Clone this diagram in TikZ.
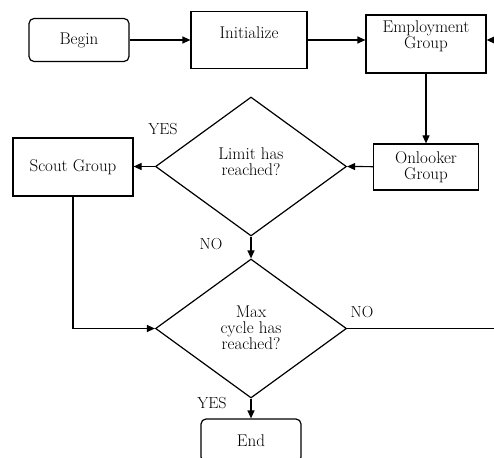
\documentclass[tikz,border=0pt]{standalone}
\usetikzlibrary{shapes.geometric,arrows.meta}
\begin{document}
\begin{tikzpicture}[x=1pt,y=-1pt,
  every node/.style={font=\fontsize{17}{16}\selectfont, align=center, inner sep=0pt},
  box/.style={draw, line width=1.2pt},
  rbox/.style={draw, line width=1.2pt, rounded corners=5pt},
  dec/.style={draw, line width=1.2pt, diamond, minimum width=191pt, minimum height=139pt},
  arr/.style={line width=1.2pt, -{Triangle[length=8pt,width=7pt]}},
  lbl/.style={font=\fontsize{16}{15}\selectfont}]
\useasboundingbox (0,0) rectangle (494,457);
\clip (0,0) rectangle (494,457);
\node[rbox, minimum width=100pt, minimum height=43pt] (begin) at (79,40) {Begin};
\node[box, minimum width=116pt, minimum height=57pt] (init) at (249,40) {};
\node (initt) at (249,33) {Initialize};
\node[box, minimum width=120pt, minimum height=58pt] (emp) at (426,44) {};
\node (empt) at (426,36) {Employment\\Group};
\node[box, minimum width=105pt, minimum height=46pt] (onl) at (426,167) {Onlooker\\Group};
\node[dec] (d1) at (251,166.5) {};
\node (d1t) at (251,162) {Limit has\\reached?};
\node[box, minimum width=120pt, minimum height=58pt] (scout) at (73,167) {Scout Group};
\node[dec] (d2) at (251,328.5) {};
\node (d2t) at (251,328) {Max\\cycle has\\reached?};
\node[rbox, minimum width=100pt, minimum height=43pt] (end) at (251,440.5) {End};
\node[lbl] (yes1) at (163,129) {YES};
\node[lbl] (no1) at (211,244) {NO};
\node[lbl] (no2) at (362,312) {NO};
\node[lbl] (yes2) at (212,403) {YES};
\coordinate (loop) at (520,328.5);
\draw[arr] (begin) -- (init);
\draw[arr] (init.east) -- (emp.west |- init.east);
\draw[arr] (emp) -- (onl);
\draw[arr] (onl) -- (d1.east);
\draw[arr] (d1.west) -- (scout.east |- d1.west);
\draw[arr] (d1.south) -- (d2.north);
\draw[arr] (scout.south) |- (d2.west);
\draw[arr] (d2.south) -- (end.north);
\draw[arr] (d2.east) -- (loop) |- (emp.east |- begin.east);
\end{tikzpicture}
\end{document}
